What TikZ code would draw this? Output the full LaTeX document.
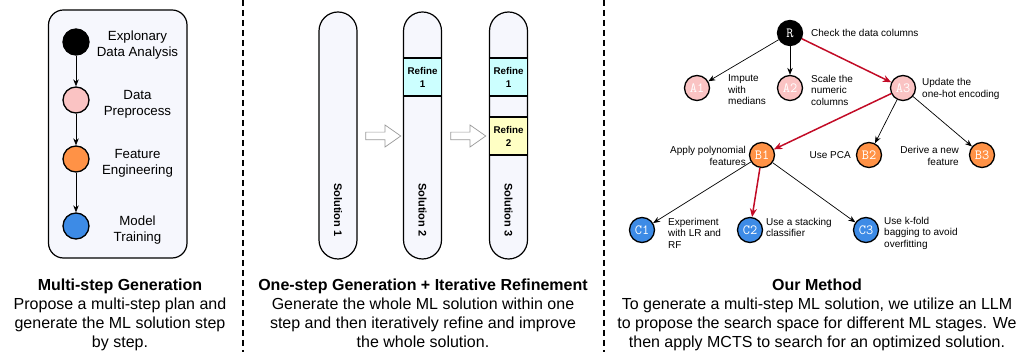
\documentclass[tikz,border=0pt]{standalone}
\usepackage{fontspec}
\setmainfont{Liberation Sans}
\usetikzlibrary{arrows.meta,shapes.arrows}
\definecolor{panelbg}{HTML}{F6F7FD}
\definecolor{pinkc}{HTML}{FAC3C3}
\definecolor{orangec}{HTML}{FF9246}
\definecolor{bluec}{HTML}{3D8BE6}
\definecolor{cyanc}{HTML}{CCFFFF}
\definecolor{yellowc}{HTML}{FFFFC4}
\definecolor{redc}{HTML}{C20B26}
\begin{document}
\begin{tikzpicture}[x=1pt,y=-1pt,
  sep/.style={line width=1.2pt,dash pattern=on 6pt off 4pt},
  panel/.style={draw,line width=1.2pt,fill=panelbg,rounded corners=15pt,minimum width=138.5pt,minimum height=248pt,inner sep=0pt},
  stage/.style={circle,draw,line width=1.3pt,minimum size=26pt,inner sep=0pt},
  stagelabel/.style={align=center,font=\fontsize{13.3}{16}\selectfont,inner sep=0pt},
  flow/.style={-{Stealth[length=7pt,width=5.5pt]},line width=0.8pt},
  pill/.style={draw,line width=1.2pt,fill=panelbg,rounded corners=19pt,minimum width=38pt,minimum height=247pt,inner sep=0pt},
  refine/.style={draw,line width=1.2pt,minimum width=38pt,minimum height=38pt,inner sep=0pt,align=center,font=\bfseries\fontsize{9.8}{13}\selectfont},
  sollabel/.style={rotate=-90,font=\bfseries\fontsize{11}{13}\selectfont},
  hollow/.style={single arrow,draw=gray!80,line width=0.7pt,fill=white,minimum width=14pt,minimum height=35pt,inner sep=3.5pt,single arrow tip angle=70},
  tnode/.style={circle,draw,line width=1.3pt,minimum size=25pt,inner sep=0pt,text=white,font=\ttfamily\fontsize{14}{14}\selectfont},
  tlabel/.style={font=\fontsize{10}{11.5}\selectfont,inner sep=0pt},
  tedge/.style={-{Stealth[length=7pt,width=5.5pt]},line width=0.7pt},
  redge/.style={-{Stealth[length=8.5pt,width=7pt]},line width=1.5pt,draw=redc},
  caption/.style={align=center,anchor=north,inner sep=0pt,font=\fontsize{16}{19}\selectfont}
]
\useasboundingbox (0,0) rectangle (1028,352);

% separators
\coordinate (s1t) at (243,0); \coordinate (s1b) at (243,352);
\coordinate (s2t) at (604,0); \coordinate (s2b) at (604,352);
\draw[sep] (s1t) -- (s1b);
\draw[sep] (s2t) -- (s2b);

% ---------- left panel ----------
\node[panel] (box) at (117.75,134) {};
\node[stage,fill=black] (eda) at (76,42) {};
\node[stage,fill=pinkc] (pre) at (76,100) {};
\node[stage,fill=orangec] (fe) at (76,159) {};
\node[stage,fill=bluec] (mt) at (76,226) {};
\draw[flow] (eda) -- (pre);
\draw[flow] (pre) -- (fe);
\draw[flow] (fe) -- (mt);
\node[stagelabel] (l1) at (137.5,45) {Explonary\\Data Analysis};
\node[stagelabel] (l2) at (137.5,104) {Data\\Preprocess};
\node[stagelabel] (l3) at (137.5,163) {Feature\\Engineering};
\node[stagelabel] (l4) at (137.5,230) {Model\\Training};

\node[caption] (cap1) at (120,279) {{\bfseries Multi-step Generation}\\Propose a multi-step plan and\\generate the ML solution step\\by step.};

% ---------- middle panel ----------
\node[pill] (sol1) at (338,135.5) {};
\node[pill] (sol2) at (422.5,135.5) {};
\node[pill] (sol3) at (508.5,135.5) {};
\node[refine,fill=cyanc] (r21) at (422.5,77) {Refine\\1};
\node[refine,fill=cyanc] (r31) at (508.5,77) {Refine\\1};
\node[refine,fill=yellowc] (r32) at (508.5,136) {Refine\\2};
\node[sollabel] (t1) at (338,210) {Solution 1};
\node[sollabel] (t2) at (422.5,210) {Solution 2};
\node[sollabel] (t3) at (508.5,210) {Solution 3};
\node[hollow] (ar1) at (380.5,136) {};
\node[hollow] (ar2) at (465.5,136) {};

\node[caption] (cap2) at (423,279) {{\bfseries One-step Generation + Iterative Refinement}\\Generate the whole ML solution within one\\step and then iteratively refine and improve\\the whole solution.};

% ---------- right panel ----------
\node[tnode,fill=black] (R) at (790,33) {R};
\node[tnode,fill=pinkc] (A1) at (697,88) {A1};
\node[tnode,fill=pinkc] (A2) at (790,88) {A2};
\node[tnode,fill=pinkc] (A3) at (903,88) {A3};
\node[tnode,fill=orangec] (B1) at (762,155) {B1};
\node[tnode,fill=orangec] (B2) at (869,155) {B2};
\node[tnode,fill=orangec] (B3) at (982,155) {B3};
\node[tnode,fill=bluec] (C1) at (642,230) {C1};
\node[tnode,fill=bluec] (C2) at (750,230) {C2};
\node[tnode,fill=bluec] (C3) at (866,230) {C3};

\draw[tedge] (R) -- (A1);
\draw[tedge] (R) -- (A2);
\draw[redge] (R) -- (A3);
\draw[redge] (A3) -- (B1);
\draw[tedge] (A3) -- (B2);
\draw[tedge] (A3) -- (B3);
\draw[tedge] (B1) -- (C1);
\draw[redge] (B1) -- (C2);
\draw[tedge] (B1) -- (C3);

\node[tlabel,anchor=west] (lR) at (811,33) {Check the data columns};
\node[tlabel,anchor=west,align=left] (lA1) at (728,90) {Impute\\with\\medians};
\node[tlabel,anchor=west,align=left] (lA2) at (811,90) {Scale the\\numeric\\columns};
\node[tlabel,anchor=west,align=left] (lA3) at (922,89) {Update the\\one-hot encoding};
\node[tlabel,anchor=east,align=right] (lB1) at (746,156) {Apply polynomial\\features};
\node[tlabel,anchor=east] (lB2) at (851,155) {Use PCA};
\node[tlabel,anchor=east,align=right] (lB3) at (959,156) {Derive a new\\feature};
\node[tlabel,anchor=west,align=left] (lC1) at (668,233) {Experiment\\with LR and\\RF};
\node[tlabel,anchor=west,align=left] (lC2) at (766,227.5) {Use a stacking\\classifier};
\node[tlabel,anchor=west,align=left] (lC3) at (884,233) {Use k-fold\\bagging to avoid\\overfitting};

\node[caption] (cap3) at (817,279) {{\bfseries Our Method}\\To generate a multi-step ML solution, we utilize an LLM\\to propose the search space for different ML stages. We\\then apply MCTS to search for an optimized solution.};
\end{tikzpicture}
\end{document}
